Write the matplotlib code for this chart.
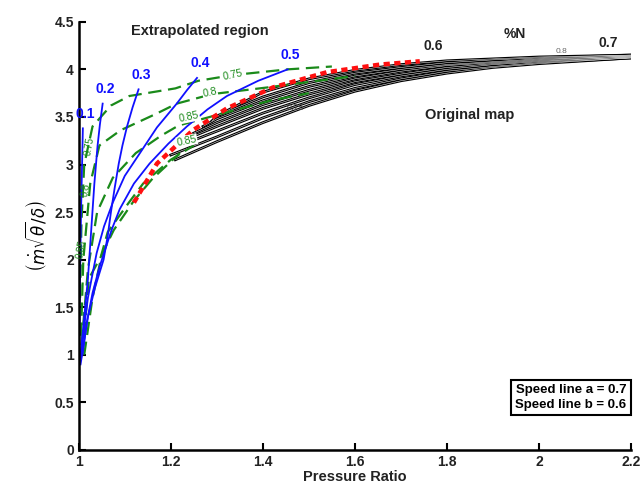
import matplotlib
matplotlib.use('Agg')
import matplotlib.pyplot as plt

plt.rcParams['font.family'] = ['Liberation Sans', 'DejaVu Sans']

# extrapolated speed lines (blue), %N
speed_labels = ['0.1', '0.2', '0.3', '0.4', '0.5']
speed_x = [
    [1.0, 1.002, 1.005, 1.009],
    [1.002, 1.012, 1.02, 1.027, 1.034, 1.041, 1.046, 1.052],
    [1.004, 1.012, 1.02, 1.035, 1.054, 1.063, 1.07, 1.078, 1.087, 1.095, 1.105, 1.117, 1.13],
    [1.005, 1.012, 1.02, 1.03, 1.039, 1.055, 1.074, 1.1, 1.133, 1.17, 1.213, 1.235, 1.257],
    [1.008, 1.018, 1.03, 1.045, 1.057, 1.072, 1.089, 1.12, 1.154, 1.195, 1.235, 1.28,
     1.322, 1.39, 1.454],
]
speed_y = [
    [0.85, 1.5, 2.5, 3.38],
    [0.9, 1.4, 1.8, 2.3, 2.8, 3.2, 3.42, 3.64],
    [0.9, 1.15, 1.4, 1.7, 2.0, 2.25, 2.5, 2.75, 3.01, 3.2, 3.4, 3.6, 3.79],
    [0.95, 1.3, 1.6, 1.85, 2.07, 2.35, 2.6, 2.88, 3.12, 3.39, 3.64, 3.78, 3.91],
    [1.0, 1.35, 1.65, 1.92, 2.1, 2.32, 2.53, 2.8, 3.01, 3.22, 3.4, 3.58, 3.72, 3.88, 4.0],
]

# extrapolated efficiency contours (green dashed)
eff_x = [
    [1.003, 1.006, 1.012, 1.03, 1.07, 1.11, 1.21, 1.26, 1.335, 1.454, 1.55],
    [1.005, 1.01, 1.025, 1.045, 1.091, 1.167, 1.213, 1.29, 1.41, 1.52, 1.6],
    [1.006, 1.02, 1.04, 1.074, 1.124, 1.178, 1.217, 1.3, 1.415, 1.5],
    [1.008, 1.022, 1.048, 1.063, 1.109, 1.14, 1.2, 1.25],
    [1.012, 1.03, 1.05, 1.076, 1.12, 1.16, 1.22],
]
eff_y = [
    [1.6, 2.4, 3.0, 3.4, 3.62, 3.72, 3.8, 3.88, 3.94, 4.0, 4.03],
    [1.2, 2.0, 2.8, 3.2, 3.36, 3.53, 3.64, 3.74, 3.81, 3.88, 3.93],
    [1.1, 1.9, 2.5, 2.86, 3.12, 3.3, 3.41, 3.52, 3.67, 3.75],
    [1.0, 1.8, 2.03, 2.29, 2.6, 2.8, 3.05, 3.2],
    [1.0, 1.6, 2.05, 2.31, 2.62, 2.85, 3.12],
]
eff_labels = ['0.75', '0.8', '0.85', '0.85']
eff_label_x = [1.335, 1.285, 1.24, 1.235]
eff_label_y = [3.94, 3.76, 3.5, 3.25]
eff_side_labels = ['0.75', '0.8', '0.85']
eff_side_x = [1.022, 1.015, 1.005]
eff_side_y = [3.19, 2.73, 2.11]

# original map lines (black)
grid_x = [1.3, 1.4, 1.5, 1.6, 1.7, 1.8, 1.9, 2.0, 2.2]
orig_x = [
    [1.21] + grid_x,
    [1.2] + grid_x,
    [1.22] + grid_x,
    [1.23] + grid_x,
    [1.25] + grid_x,
    [1.27] + grid_x,
    [1.29] + grid_x,
    [1.32] + grid_x[1:],
]
orig_y = [
    [3.05, 3.24, 3.44, 3.62, 3.77, 3.88, 3.96, 4.02, 4.06, 4.12],
    [3.1, 3.29, 3.49, 3.66, 3.8, 3.9, 3.98, 4.03, 4.07, 4.12],
    [3.2, 3.35, 3.54, 3.7, 3.84, 3.93, 4.0, 4.05, 4.08, 4.13],
    [3.26, 3.4, 3.59, 3.74, 3.87, 3.95, 4.02, 4.06, 4.09, 4.13],
    [3.33, 3.44, 3.63, 3.78, 3.9, 3.98, 4.04, 4.07, 4.1, 4.14],
    [3.4, 3.48, 3.67, 3.82, 3.93, 4.0, 4.05, 4.08, 4.11, 4.14],
    [3.46, 3.51, 3.71, 3.86, 3.96, 4.02, 4.07, 4.1, 4.12, 4.15],
    [3.56, 3.76, 3.9, 3.99, 4.05, 4.09, 4.11, 4.13, 4.15],
]

# boundary between regions (red dotted)
bound_x = [1.12, 1.17, 1.248, 1.322, 1.422, 1.539, 1.654, 1.741]
bound_y = [2.6, 3.01, 3.36, 3.59, 3.81, 3.97, 4.05, 4.085]

fig = plt.figure(figsize=(6.4, 4.95), dpi=100)
ax = fig.add_axes([0.123, 0.091, 0.863, 0.865])

for xs, ys in zip(orig_x, orig_y):
    ax.plot(xs, ys, color='black', lw=2.0)
for xs, ys in zip(orig_x, orig_y):
    ax.plot(xs, ys, color='white', lw=0.35)

for xs, ys in zip(eff_x, eff_y):
    ax.plot(xs, ys, color='#1a8a1a', lw=1.6, dashes=(6, 3))

for xs, ys, lab in zip(speed_x, speed_y, speed_labels):
    ax.plot(xs, ys, color='#1010ff', lw=1.3)
    ax.text(xs[-1] + 0.006, ys[-1] + 0.08, lab, color='#1010ff',
            fontsize=10, fontweight='bold', ha='center', va='bottom')

ax.plot(bound_x, bound_y, color='#ff1010', lw=3.2, dashes=(1.4, 1.0))

for lab, x, y in zip(eff_labels, eff_label_x, eff_label_y):
    ax.text(x, y, lab, color='#1a8a1a', fontsize=7.5, ha='center', va='center',
            rotation=12, bbox=dict(facecolor='white', edgecolor='none', pad=0.3))
for lab, x, y in zip(eff_side_labels, eff_side_x, eff_side_y):
    ax.text(x, y, lab, color='#1a8a1a', fontsize=7, ha='center', va='center',
            rotation=80)

ax.text(1.47, 3.6, '0.75', color='#444444', fontsize=6.5, ha='center', va='center')
ax.text(2.05, 4.19, '0.8', color='#666666', fontsize=6, ha='center', va='center')

ax.text(1.77, 4.25, '0.6', fontsize=10, fontweight='bold', color='#222222', ha='center', va='center')
ax.text(1.948, 4.37, '%N', fontsize=10, fontweight='bold', color='#222222', ha='center', va='center')
ax.text(2.15, 4.28, '0.7', fontsize=10, fontweight='bold', color='#222222', ha='center', va='center')
ax.text(1.263, 4.4, 'Extrapolated region', fontsize=10.5, fontweight='bold',
        color='#222222', ha='center', va='center')
ax.text(1.85, 3.52, 'Original map', fontsize=10.5, fontweight='bold',
        color='#222222', ha='center', va='center')
ax.text(2.19, 0.55, 'Speed line a = 0.7\nSpeed line b = 0.6', fontsize=9.5,
        fontweight='bold', ha='right', va='center', linespacing=1.25,
        bbox=dict(facecolor='white', edgecolor='black', lw=1.5, pad=3))

ax.set_xlim(1, 2.2)
ax.set_ylim(0, 4.5)
ax.set_xticks([1, 1.2, 1.4, 1.6, 1.8, 2, 2.2])
ax.set_xticklabels(['1', '1.2', '1.4', '1.6', '1.8', '2', '2.2'])
ax.set_yticks([0, 0.5, 1, 1.5, 2, 2.5, 3, 3.5, 4, 4.5])
ax.set_yticklabels(['0', '0.5', '1', '1.5', '2', '2.5', '3', '3.5', '4', '4.5'])
ax.spines['top'].set_visible(False)
ax.spines['right'].set_visible(False)
ax.spines['left'].set_linewidth(1.8)
ax.spines['bottom'].set_linewidth(1.8)
ax.tick_params(direction='in', length=5, width=1.5, labelsize=10)
for t in ax.get_xticklabels() + ax.get_yticklabels():
    t.set_fontweight('bold')
    t.set_color('#222222')
ax.set_xlabel('Pressure Ratio', fontsize=10.5, fontweight='bold', color='#222222', labelpad=1)
ax.set_ylabel(r'$\left(\dot{m}\sqrt{\theta}/\delta\right)$', fontsize=12, labelpad=4)

fig.savefig('out.png', dpi=100)
